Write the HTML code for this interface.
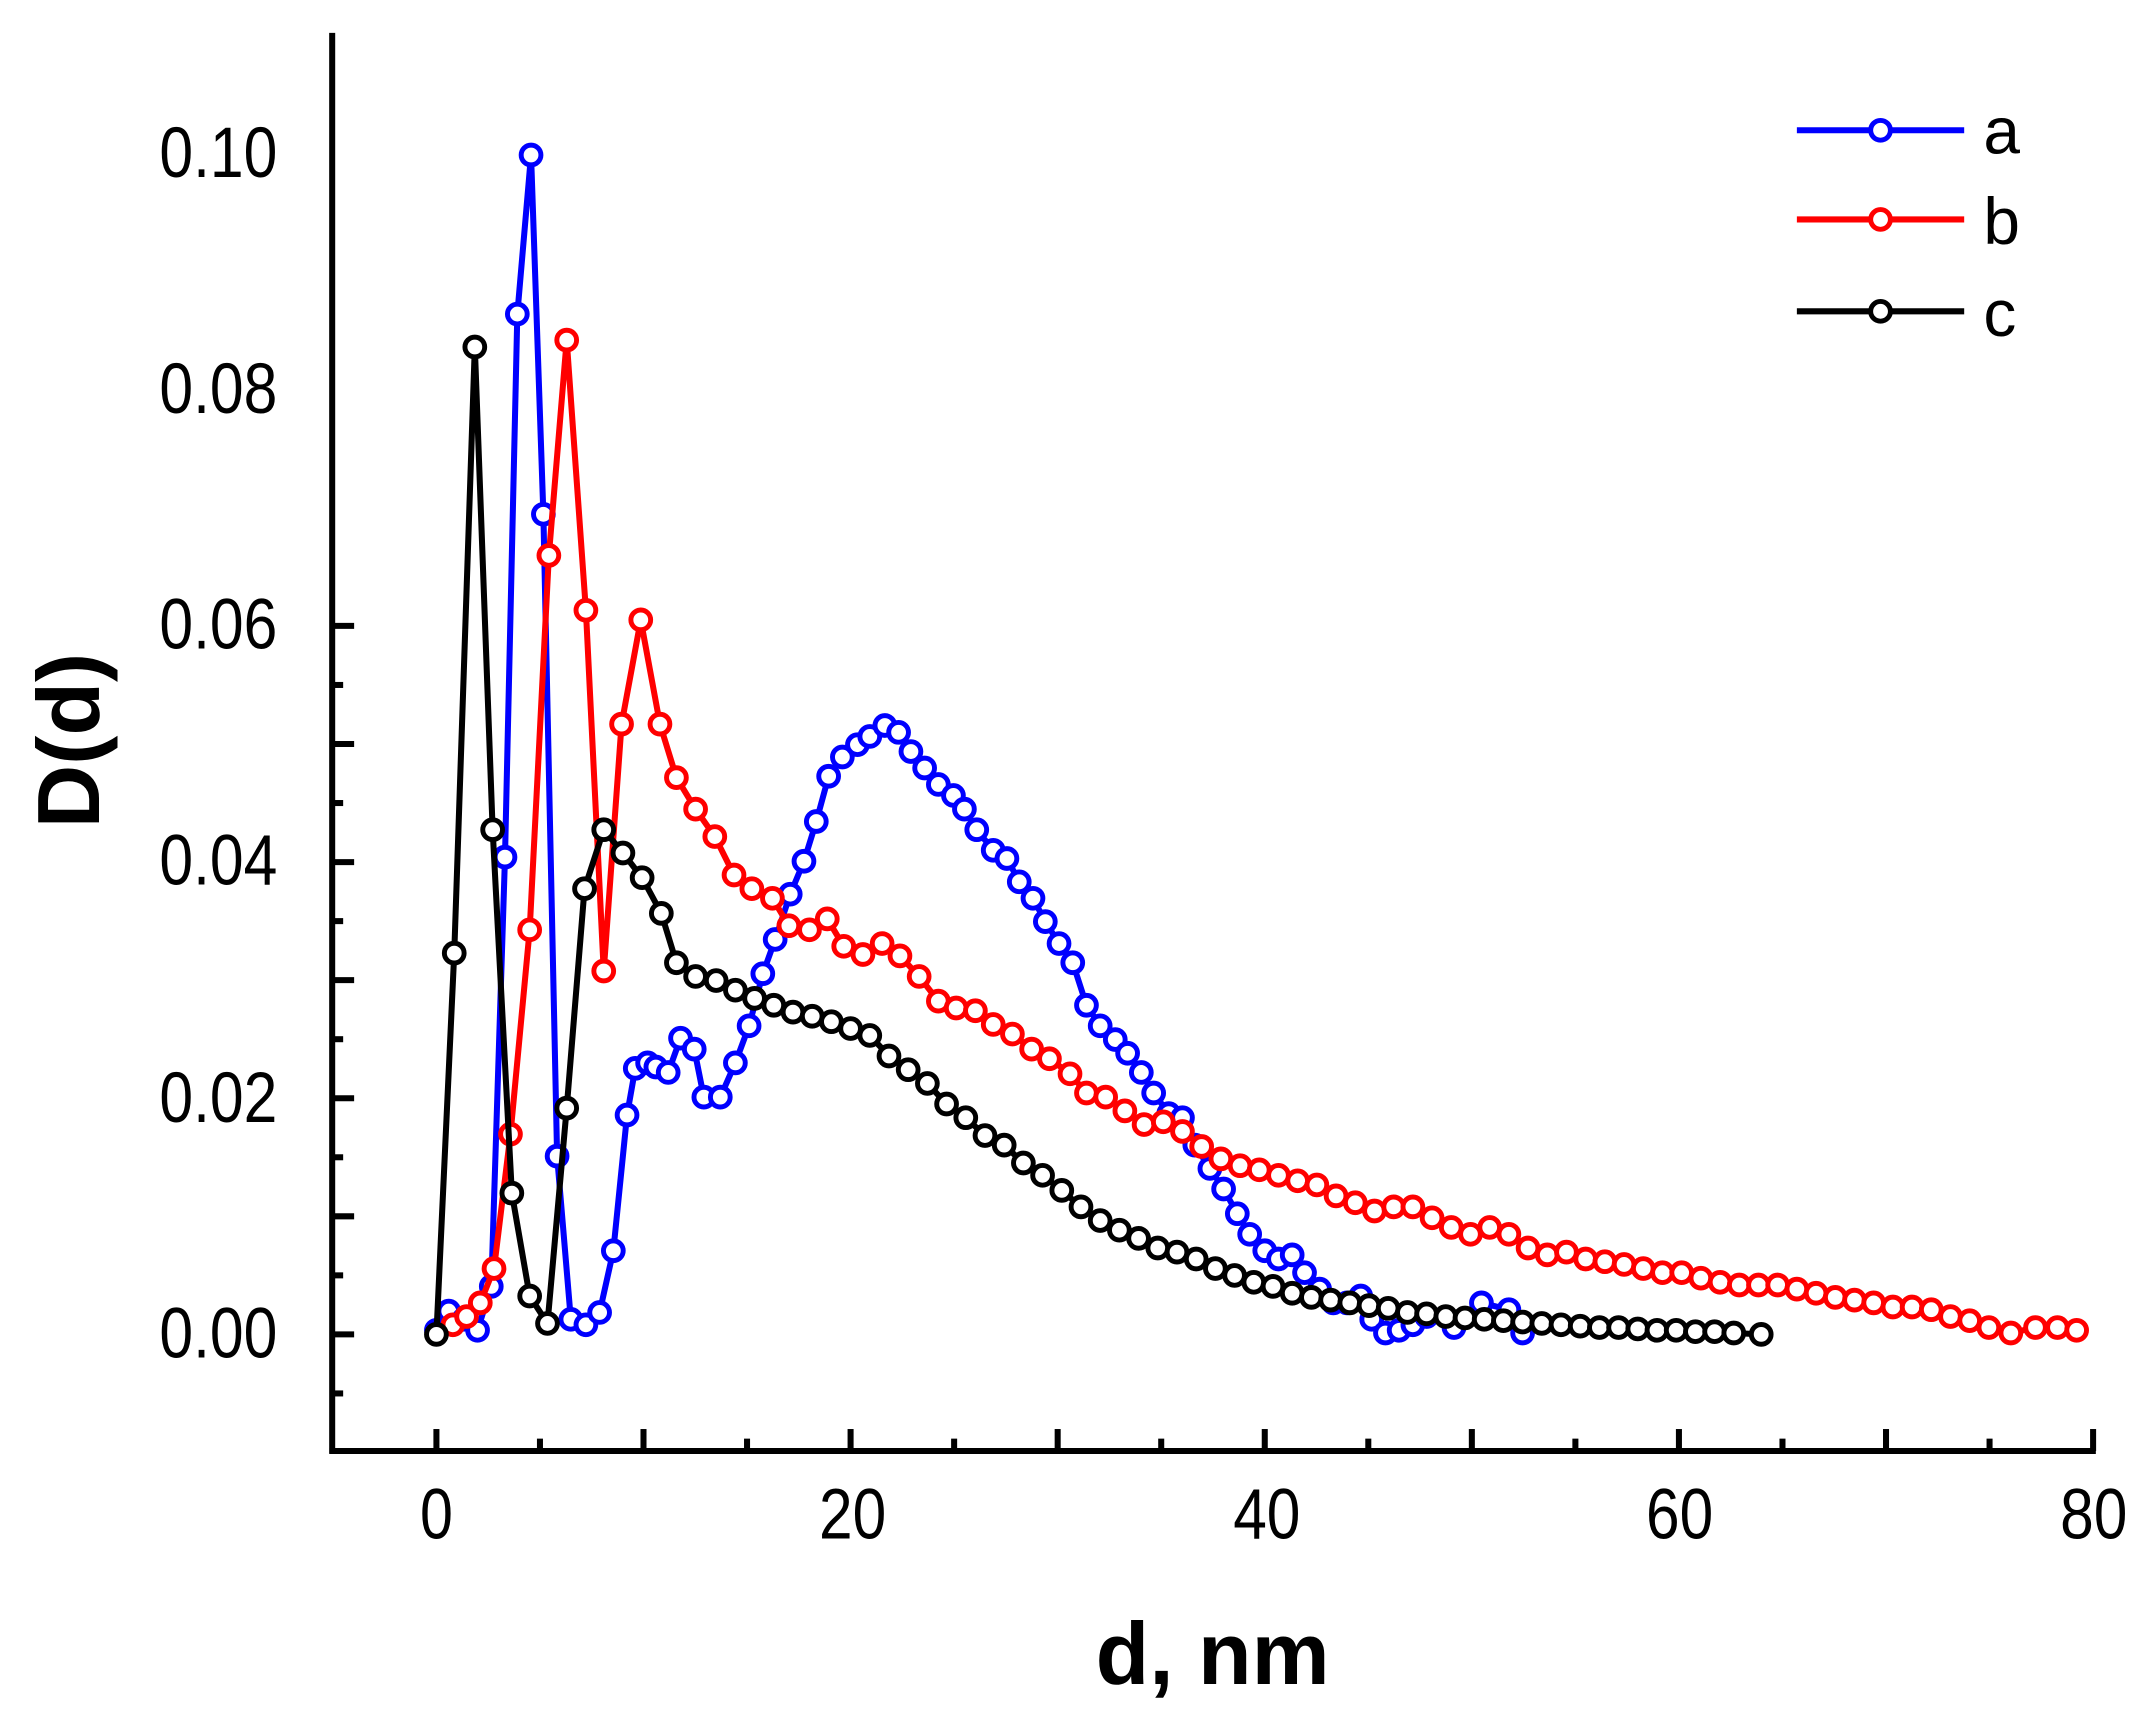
<!DOCTYPE html>
<html><head><meta charset="utf-8"><style>
html,body{margin:0;padding:0;background:#fff;}
svg{display:block;}
text{font-family:"Liberation Sans",Arial,sans-serif;}
</style></head><body>
<svg id="s" width="2151" height="1728" viewBox="0 0 1568 1260" xmlns="http://www.w3.org/2000/svg">
<rect width="1568" height="1260" fill="#fff"/>
<g stroke="#000" stroke-width="4.4" fill="none">
<line x1="242" y1="24" x2="242" y2="1060"/>
<line x1="240" y1="1058" x2="1528" y2="1058"/>
</g>
<g id="ticks" stroke="#000" stroke-width="4.4"></g>
<g font-size="52" fill="#000">
<text x="116" y="990" textLength="86" lengthAdjust="spacingAndGlyphs">0.00</text>
<text x="116" y="818" textLength="86" lengthAdjust="spacingAndGlyphs">0.02</text>
<text x="116" y="645" textLength="86" lengthAdjust="spacingAndGlyphs">0.04</text>
<text x="116" y="473" textLength="86" lengthAdjust="spacingAndGlyphs">0.06</text>
<text x="116" y="301" textLength="86" lengthAdjust="spacingAndGlyphs">0.08</text>
<text x="116" y="129" textLength="86" lengthAdjust="spacingAndGlyphs">0.10</text>
</g>
<g font-size="52" fill="#000">
<text x="306" y="1122" textLength="24" lengthAdjust="spacingAndGlyphs">0</text>
<text x="597" y="1122" textLength="49" lengthAdjust="spacingAndGlyphs">20</text>
<text x="899" y="1122" textLength="49" lengthAdjust="spacingAndGlyphs">40</text>
<text x="1200" y="1122" textLength="49" lengthAdjust="spacingAndGlyphs">60</text>
<text x="1502" y="1122" textLength="49" lengthAdjust="spacingAndGlyphs">80</text>
</g>
<text x="884" y="1228" font-size="64" font-weight="bold" text-anchor="middle">d, nm</text>
<text transform="translate(72,540) rotate(-90)" font-size="64" font-weight="bold" text-anchor="middle">D(d)</text>
<g id="plots"></g>
<g font-size="48" fill="#000">
<text x="1446" y="112">a</text>
<text x="1446" y="178">b</text>
<text x="1446" y="245">c</text>
</g>
</svg>
<script>
var NS="http://www.w3.org/2000/svg";
var t=document.getElementById("ticks");
function ln(x1,y1,x2,y2){var l=document.createElementNS(NS,"line");l.setAttribute("x1",x1);l.setAttribute("y1",y1);l.setAttribute("x2",x2);l.setAttribute("y2",y2);t.appendChild(l);}
for(var i=-1;i<=12;i++){var y=973-i*43.05;if(y<25)continue;ln(242,y,i%2==0?258:250,y);}
for(var i=-1;i<=16;i++){var x=318+i*75.5;if(x<243||x>1530)continue;ln(x,1058,x,i%2==0?1042:1049);}
var A=[[318,970],[327,956],[338,962],[348,970],[358,938],[368,625],[377,229],[387,113],[396,375],[406,843],[416,962],[427,966],[437,957],[447,912],[457,813],[463,779],[472,775],[478,778],[487,782],[496,757],[506,765],[513,800],[525,800],[536,775],[546,748],[556,710],[565,685],[576,652],[586,628],[595,599],[604,566],[614,552],[625,543],[634,537],[645,529],[655,534],[664,548],[674,560],[684,572],[695,580],[703,590],[712,605],[724,620],[734,626],[743,643],[753,655],[762,672],[772,688],[782,702],[792,733],[802,748],[813,758],[822,768],[832,782],[841,797],[852,812],[862,815],[871,835],[882,852],[892,867],[902,885],[911,900],[922,912],[932,918],[942,915],[951,928],[962,940],[972,950],[982,950],[992,945],[1000,962],[1010,972],[1020,970],[1030,966],[1040,960],[1060,968],[1080,950],[1100,955],[1110,972]];
var B=[[330,966],[340,960],[350,950],[360,925],[372,827],[386,678],[400,405],[413,248],[427,445],[440,708],[453,528],[467,452],[481,528],[493,567],[507,590],[521,610],[535,638],[548,648],[563,655],[575,675],[590,678],[603,670],[615,690],[629,696],[643,688],[656,697],[670,712],[684,730],[697,735],[711,737],[724,747],[738,754],[752,765],[765,772],[780,783],[792,797],[806,800],[820,810],[834,820],[848,818],[862,825],[876,836],[890,845],[904,850],[918,853],[932,857],[946,861],[960,864],[974,872],[988,877],[1002,883],[1016,880],[1030,880],[1044,888],[1058,895],[1072,900],[1086,895],[1100,900],[1114,910],[1128,915],[1142,913],[1156,918],[1170,920],[1184,922],[1198,925],[1212,928],[1226,928],[1240,932],[1254,935],[1268,937],[1282,937],[1296,937],[1310,940],[1324,943],[1338,946],[1352,948],[1366,950],[1380,953],[1394,953],[1408,955],[1422,960],[1436,963],[1450,968],[1466,972],[1484,968],[1500,968],[1514,970]];
var C=[[318,973],[331,695],[346,253],[359,605],[373,870],[386,945],[399,965],[413,808],[426,648],[440,605],[454,622],[468,640],[482,666],[493,702],[507,712],[522,715],[536,722],[550,728],[564,733],[578,738],[592,741],[606,745],[620,750],[634,755],[648,770],[662,780],[676,790],[690,805],[704,815],[718,828],[732,835],[746,848],[760,857],[774,868],[788,880],[802,890],[816,897],[830,903],[844,910],[858,913],[872,918],[886,925],[900,930],[914,935],[928,938],[942,943],[956,946],[970,948],[984,950],[998,952],[1012,954],[1026,957],[1040,958],[1054,960],[1068,961],[1082,962],[1096,963],[1110,964],[1124,965],[1138,966],[1152,967],[1166,968],[1180,968],[1194,969],[1208,970],[1222,970],[1236,971],[1250,971],[1264,972],[1284,973]];
var P=document.getElementById("plots");
function series(d,col,ly){
 var g=document.createElementNS(NS,"g");P.appendChild(g);
 var p=document.createElementNS(NS,"polyline");
 p.setAttribute("points",d.map(function(a){return a.join(",")}).join(" "));
 p.setAttribute("fill","none");p.setAttribute("stroke",col);p.setAttribute("stroke-width","4.4");p.setAttribute("stroke-linejoin","round");g.appendChild(p);
 var pts=d.concat([]);
 var l=document.createElementNS(NS,"line");l.setAttribute("x1",1310);l.setAttribute("x2",1432);l.setAttribute("y1",ly);l.setAttribute("y2",ly);l.setAttribute("stroke",col);l.setAttribute("stroke-width","4.4");g.appendChild(l);
 pts.push([1371,ly]);
 pts.forEach(function(a){var c=document.createElementNS(NS,"circle");c.setAttribute("cx",a[0]);c.setAttribute("cy",a[1]);c.setAttribute("r","7.2");c.setAttribute("fill","#fff");c.setAttribute("stroke",col);c.setAttribute("stroke-width","3.6");g.appendChild(c);});
}
series(A,"#0000ff",95);
series(B,"#ff0000",160);
series(C,"#000000",227);
</script>
</body></html>
